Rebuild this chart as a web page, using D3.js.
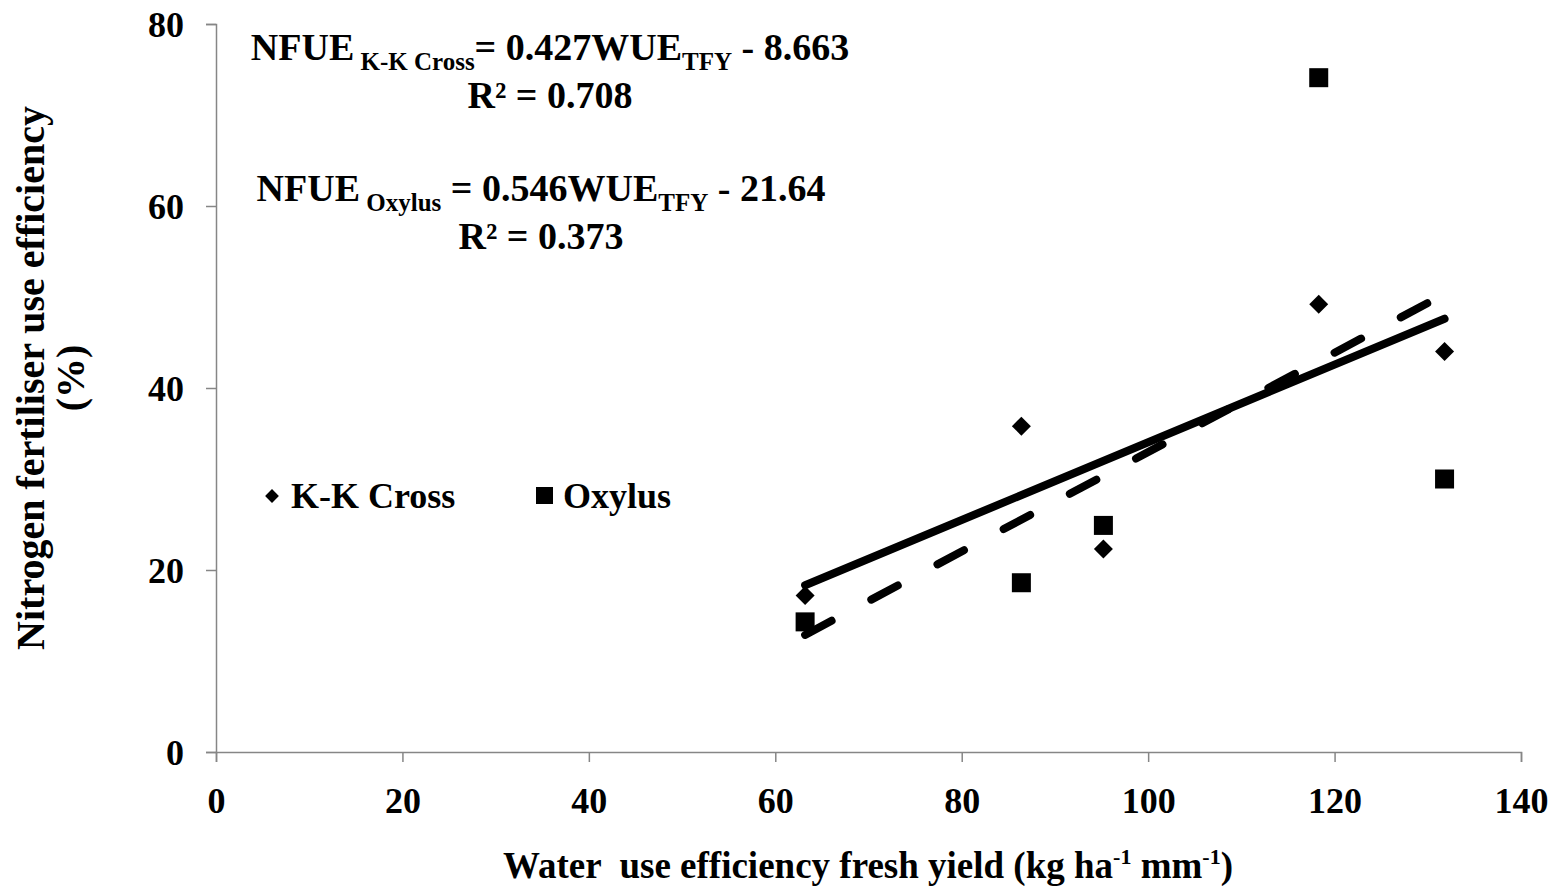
<!DOCTYPE html>
<html>
<head>
<meta charset="utf-8">
<script src="https://cdn.jsdelivr.net/npm/d3@7"></script>
<style>
  body { margin: 0; background: #fff; }
  text { font-family: 'Liberation Serif', 'Times New Roman', serif; font-weight: bold; fill: #000; }
</style>
</head>
<body>
<svg id="chart" width="1563" height="886"></svg>
<script>
// data
const wueKK = [63.2, 86.4, 95.2, 118.3, 131.8];
const nfueKK = [17.2, 35.8, 22.3, 49.2, 44.0];
const wueOx = [63.2, 86.4, 95.2, 118.3, 131.8];
const nfueOx = [14.3, 18.6, 24.9, 74.1, 30.0];
const fitKK = {slope: 0.427, intercept: -8.663, from: 63.2, to: 131.8};
const fitOx = {slope: 0.546, intercept: -21.64, from: 63.2, to: 131.8};
const xTicks = [0, 20, 40, 60, 80, 100, 120, 140];
const yTicks = [0, 20, 40, 60, 80];

const svg = d3.select('#chart');
const axisColor = '#868686';

const x = d3.scaleLinear().domain([0, 140]).range([216, 1521]);
const y = d3.scaleLinear().domain([0, 80]).range([752, 24]);

// axes
const xAxis = svg.append('g')
    .attr('transform', `translate(0,${y(0)})`)
    .call(d3.axisBottom(x).tickValues(xTicks).tickSize(10).tickPadding(25).tickFormat(d3.format('d')));
const yAxis = svg.append('g')
    .attr('transform', `translate(${x(0)},0)`)
    .call(d3.axisLeft(y).tickValues(yTicks).tickSize(10).tickPadding(22).tickFormat(d3.format('d')));

[xAxis, yAxis].forEach(a => {
    a.select('.domain').attr('stroke', axisColor).attr('stroke-width', 1.5);
    a.selectAll('.tick line').attr('stroke', axisColor).attr('stroke-width', 1.5);
    a.selectAll('.tick text')
        .attr('fill', '#000')
        .style('font-family', "'Liberation Serif', serif")
        .style('font-weight', 'bold')
        .style('font-size', '36px');
});
yAxis.selectAll('.tick text').attr('dy', '0.34em');
xAxis.selectAll('.tick text').attr('dy', '0.71em');

// trend lines
const line = d3.line().x(d => x(d[0])).y(d => y(d[1]));
const fitPts = f => [[f.from, f.slope * f.from + f.intercept], [f.to, f.slope * f.to + f.intercept]];

svg.append('path')
    .attr('d', line(fitPts(fitOx)))
    .attr('fill', 'none')
    .attr('stroke', '#000')
    .attr('stroke-width', 8)
    .attr('stroke-linecap', 'round')
    .attr('stroke-dasharray', '30,45');

svg.append('path')
    .attr('d', line(fitPts(fitKK)))
    .attr('fill', 'none')
    .attr('stroke', '#000')
    .attr('stroke-width', 8)
    .attr('stroke-linecap', 'round');

// points
const diamond = d3.symbol().type(d3.symbolSquare).size(180);
svg.append('g')
    .selectAll('path')
    .data(wueKK.map((v, i) => [v, nfueKK[i]]))
    .join('path')
    .attr('d', diamond)
    .attr('transform', d => `translate(${x(d[0])},${y(d[1])}) rotate(45)`)
    .attr('fill', '#000');

svg.append('g')
    .selectAll('rect')
    .data(wueOx.map((v, i) => [v, nfueOx[i]]))
    .join('rect')
    .attr('x', d => x(d[0]) - 9.5)
    .attr('y', d => y(d[1]) - 9.5)
    .attr('width', 19)
    .attr('height', 19)
    .attr('fill', '#000');

// equations
const eq = (cx, yBase, sub, rest, r2) => {
    const t = svg.append('text').attr('x', 249).attr('y', yBase).style('font-size', '38px');
    t.append('tspan').text('NFUE');
    t.append('tspan').attr('dy', 10).style('font-size', '25px').text(' ' + sub);
    t.append('tspan').attr('dy', -10).text(rest[0]);
    t.append('tspan').attr('dy', 10).style('font-size', '25px').text('TFY');
    t.append('tspan').attr('dy', -10).text(rest[1]);
    const w = t.node().getComputedTextLength();
    t.attr('x', cx - w / 2);
    svg.append('text')
        .attr('x', cx).attr('y', yBase + 48)
        .attr('text-anchor', 'middle')
        .style('font-size', '38px')
        .text(r2);
};
eq(550, 60, 'K-K Cross', ['= 0.427WUE', ' - 8.663'], 'R² = 0.708');
eq(541, 201, 'Oxylus', [' = 0.546WUE', ' - 21.64'], 'R² = 0.373');

// legend
svg.append('path')
    .attr('d', d3.symbol().type(d3.symbolSquare).size(95))
    .attr('transform', 'translate(272,496) rotate(45)')
    .attr('fill', '#000');
svg.append('text').attr('x', 291).attr('y', 508).style('font-size', '36px').text('K-K Cross');
svg.append('rect').attr('x', 536).attr('y', 487).attr('width', 17).attr('height', 17).attr('fill', '#000');
svg.append('text').attr('x', 563).attr('y', 508).style('font-size', '36px').text('Oxylus');

// axis titles
const xt = svg.append('text')
    .attr('x', 868).attr('y', 878)
    .attr('text-anchor', 'middle')
    .style('font-size', '37px')
    .attr('xml:space', 'preserve');
xt.append('tspan').text('Water  use efficiency fresh yield (kg ha');
xt.append('tspan').attr('dy', -14).style('font-size', '22px').text('-1');
xt.append('tspan').attr('dy', 14).text(' mm');
xt.append('tspan').attr('dy', -14).style('font-size', '22px').text('-1');
xt.append('tspan').attr('dy', 14).text(')');

svg.append('text')
    .attr('transform', 'translate(44,378) rotate(-90)')
    .attr('text-anchor', 'middle')
    .style('font-size', '40px')
    .text('Nitrogen fertiliser use efficiency');
svg.append('text')
    .attr('transform', 'translate(84,378) rotate(-90)')
    .attr('text-anchor', 'middle')
    .style('font-size', '40px')
    .text('(%)');
</script>
</body>
</html>
